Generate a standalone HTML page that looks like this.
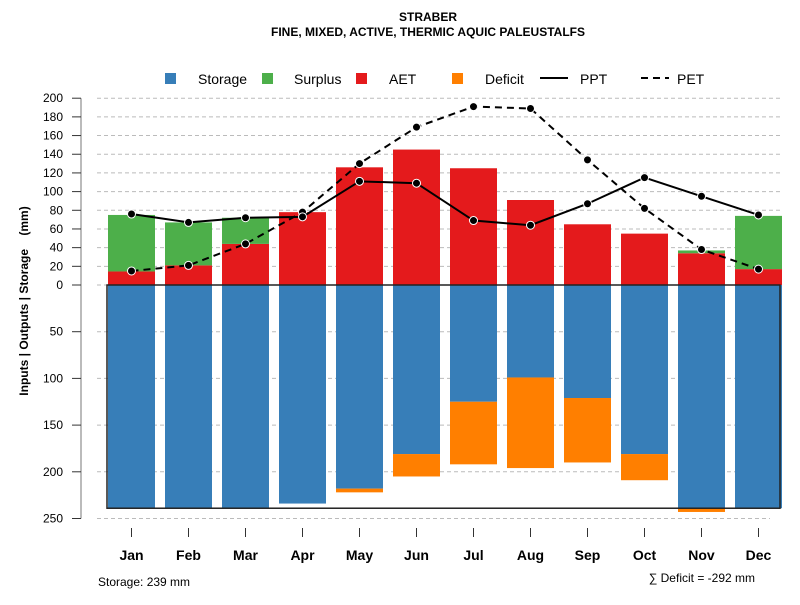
<!DOCTYPE html>
<html><head><meta charset="utf-8"><style>
body{margin:0;background:#fff}
svg text{font-family:"Liberation Sans",sans-serif}
</style></head><body>
<svg id="c" width="800" height="600" xmlns="http://www.w3.org/2000/svg">
<text x="428" y="21" text-anchor="middle" font-size="12" font-weight="bold">STRABER</text>
<text x="428" y="36" text-anchor="middle" font-size="12" font-weight="bold">FINE, MIXED, ACTIVE, THERMIC AQUIC PALEUSTALFS</text>
<g font-size="14">
<rect x="165" y="73" width="11" height="11" fill="#377eb8"/>
<text x="198" y="84">Storage</text>
<rect x="262" y="73" width="11" height="11" fill="#4daf4a"/>
<text x="294" y="84">Surplus</text>
<rect x="356" y="73" width="11" height="11" fill="#e41a1c"/>
<text x="389" y="84">AET</text>
<rect x="452" y="73" width="11" height="11" fill="#ff7f00"/>
<text x="485" y="84">Deficit</text>
<line x1="540" y1="78" x2="568" y2="78" stroke="#000" stroke-width="2"/>
<text x="580" y="84">PPT</text>
<line x1="641" y1="78" x2="669" y2="78" stroke="#000" stroke-width="2" stroke-dasharray="7,5"/>
<text x="677" y="84">PET</text>
</g>
<text transform="translate(28,301) rotate(-90)" text-anchor="middle" font-size="12" font-weight="bold" style="white-space:pre">Inputs | Outputs | Storage    (mm)</text>
<text x="98" y="586" font-size="12">Storage: 239 mm</text>
<text x="755" y="582" font-size="12" text-anchor="end">∑ Deficit = -292 mm</text>
<g id="plot"></g>
</svg>
<script>
const months=["Jan","Feb","Mar","Apr","May","Jun","Jul","Aug","Sep","Oct","Nov","Dec"];
const aet=[14.5,21,44,78,126,145,125,91,65,55,34,17];
const surplus=[60.5,46,28,0,0,0,0,0,0,0,3,57];
const ppt=[76,67,72,73,111,109,69,64,87,115,95,75];
const pet=[15,21,44,78,130,169,191,189,134,82,38,17];
const storage=[239,239,239,234,218,181,125,99,121,181,239,239];
const deficit=[0,0,0,0,4,24,67,97,69,28,4,0];
const upperTicks=[0,20,40,60,80,100,120,140,160,180,200];
const lowerTicks=[50,100,150,200,250];
const storageCap=239;

const NS="http://www.w3.org/2000/svg";
const g=document.getElementById('plot');
const y0=285,k=0.934;
const yUp=v=>y0-v*k, yDn=v=>y0+v*k;
const xC=i=>131.5+i*57, bw=47;
function el(t,a){const e=document.createElementNS(NS,t);for(const n in a)e.setAttribute(n,a[n]);g.appendChild(e);return e;}
upperTicks.forEach(v=>{
 const l=el('line',{x1:97,x2:780,y1:yUp(v),y2:yUp(v),stroke:'#bbb','stroke-dasharray':'4,3'});
 
 
});
lowerTicks.forEach(v=>{
 const l=el('line',{x1:97,x2:770,y1:yDn(v),y2:yDn(v),stroke:'#bbb','stroke-dasharray':'4,3'});
 
 
});
const ax=el('line',{x1:81,x2:81,y1:yUp(200),y2:yDn(250),stroke:'#777'});


upperTicks.forEach(v=>{
 el('line',{x1:72,x2:81,y1:yUp(v),y2:yUp(v),stroke:'#333'});
 const t=el('text',{x:63,y:yUp(v)+4,'text-anchor':'end','font-size':12});t.textContent=v;
 
 
});
lowerTicks.forEach(v=>{
 el('line',{x1:72,x2:81,y1:yDn(v),y2:yDn(v),stroke:'#333'});
 const t=el('text',{x:63,y:yDn(v)+4,'text-anchor':'end','font-size':12});t.textContent=v;
 
 
});
months.forEach((m,i)=>{
 const x=xC(i)-bw/2;
 let r=el('rect',{x:x,y:yUp(aet[i]),width:bw,height:aet[i]*k,fill:'#e41a1c'});
 
 
 if(surplus[i]>0){r=el('rect',{x:x,y:yUp(aet[i]+surplus[i]),width:bw,height:surplus[i]*k,fill:'#4daf4a'});
 
 }
 r=el('rect',{x:x,y:y0,width:bw,height:storage[i]*k,fill:'#377eb8'});
 
 
 if(deficit[i]>0){r=el('rect',{x:x,y:yDn(storage[i]),width:bw,height:deficit[i]*k,fill:'#ff7f00'});
 
 }
 el('line',{x1:xC(i),x2:xC(i),y1:528,y2:537,stroke:'#333'});
 const t=el('text',{x:xC(i),y:560,'text-anchor':'middle','font-size':14,'font-weight':'bold'});t.textContent=m;
 
 
});
const box=el('rect',{x:107,y:y0,width:673,height:storageCap*k,fill:'none',stroke:'#222','stroke-width':1.5});


function series(vals,dash,name){
 const p=el('polyline',{points:vals.map((v,i)=>xC(i)+','+yUp(v)).join(' '),fill:'none',stroke:'#000','stroke-width':2,'stroke-dasharray':dash});
 
 
 vals.forEach((v,i)=>{const c=el('circle',{cx:xC(i),cy:yUp(v),r:4,fill:'#000',stroke:'#fff','stroke-width':1});
 
 });
}
series(pet,'7,5','pet');
series(ppt,'none','ppt');
</script>
</body></html>
